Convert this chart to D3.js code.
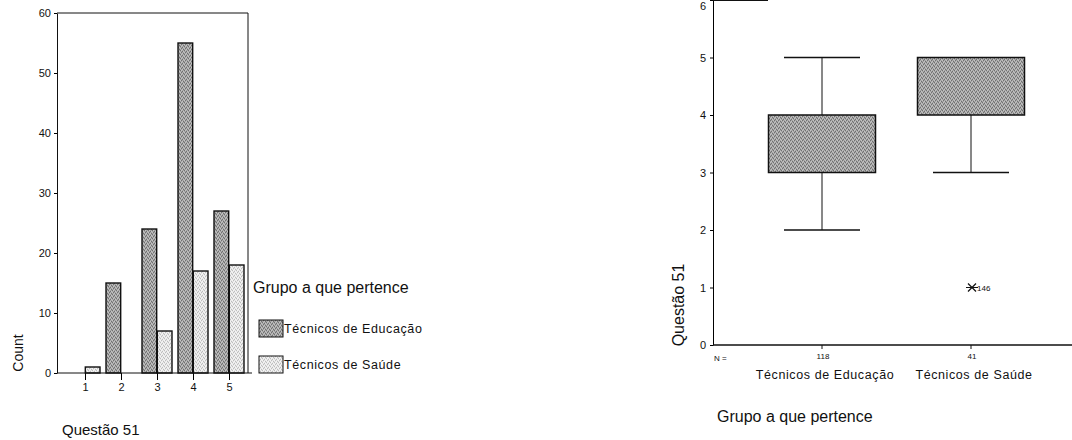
<!DOCTYPE html>
<html><head><meta charset="utf-8">
<script src="https://cdn.jsdelivr.net/npm/d3@7"></script>
<style>
body{margin:0;background:#fff;}
svg text{font-family:"Liberation Sans",Arial,sans-serif;fill:#111;}
</style></head>
<body><svg id="c" width="1072" height="440"></svg>
<script>
// ---------- data ----------
const categories = ["1","2","3","4","5"];
const seriesNames = ["Técnicos de Educação","Técnicos de Saúde"];
const eduCounts = [0,15,24,55,27];
const saudeCounts = [1,0,7,17,18];
const countTicks = [0,10,20,30,40,50,60];

const groups = ["Técnicos de Educação","Técnicos de Saúde"];
const groupN = [118,41];
const boxQ1 = [3,4];
const boxQ3 = [4,5];
const whiskLo = [2,3];
const whiskHi = [5,5];
const outlierGroup = ["Técnicos de Saúde"];
const outlierValue = [1];
const outlierId = ["146"];
const q51Ticks = [0,1,2,3,4,5,6];

const svg = d3.select("#c");
const defs = svg.append("defs");
function stipple(id, base, dot, dot2){
  const p = defs.append("pattern").attr("id",id).attr("patternUnits","userSpaceOnUse")
    .attr("width",4).attr("height",4);
  p.append("rect").attr("width",4).attr("height",4).attr("fill",base);
  [[0,0],[2,1],[1,3],[3,2]].forEach(d=>p.append("rect").attr("x",d[0]).attr("y",d[1]).attr("width",1).attr("height",1).attr("fill",dot));
  [[1,1],[3,0],[0,2],[2,3]].forEach(d=>p.append("rect").attr("x",d[0]).attr("y",d[1]).attr("width",1).attr("height",1).attr("fill",dot2));
}
stipple("pEdu","#a4a4a4","#707070","#c4c4c4");
stipple("pSau","#e6e6e6","#bdbdbd","#f6f6f6");
const fills = {"Técnicos de Educação":"url(#pEdu)","Técnicos de Saúde":"url(#pSau)"};

// ---------- left: grouped bar chart ----------
const L = svg.append("g");
const y = d3.scaleLinear().domain([0,60]).range([373,13]);
const x0 = d3.scaleBand().domain(categories).range([67,247]);
const x1 = d3.scaleBand().domain(seriesNames).range([-15,15]).paddingInner(0.04);
const rows = categories.map((c,i)=>({c, v:[eduCounts[i], saudeCounts[i]]}));

// frame
L.append("line").attr("x1",57).attr("x2",248).attr("y1",y(60)).attr("y2",y(60)).attr("stroke","#111");
L.append("line").attr("x1",248).attr("x2",248).attr("y1",y(60)).attr("y2",y(0)).attr("stroke","#111");

const cg = L.selectAll("g.cat").data(rows).join("g")
  .attr("transform",d=>`translate(${x0(d.c)+x0.bandwidth()/2},0)`);
cg.selectAll("rect").data(d=>seriesNames.map((s,k)=>({s,v:d.v[k]})).filter(e=>e.v>0)).join("rect")
  .attr("x",d=>x1(d.s)).attr("width",x1.bandwidth())
  .attr("y",d=>y(d.v)).attr("height",d=>y(0)-y(d.v))
  .attr("fill",d=>fills[d.s]).attr("stroke","#111").attr("stroke-width",1.4);

const ya = L.append("g").attr("transform","translate(57,0)")
  .call(d3.axisLeft(y).tickValues(countTicks).tickFormat(d3.format("d")).tickSize(3).tickPadding(3).tickSizeOuter(0));
ya.selectAll("text").style("font-size","11px");
ya.select(".domain").attr("stroke","#111");
const xa = L.append("g").attr("transform",`translate(0,${y(0)})`)
  .call(d3.axisBottom(d3.scalePoint().domain(categories).range([x0("1")+18,x0("5")+18])).tickSize(7).tickPadding(3));
xa.select(".domain").remove();
xa.selectAll("text").style("font-size","11px");
L.append("line").attr("x1",57).attr("x2",252).attr("y1",y(0)).attr("y2",y(0)).attr("stroke","#111");

L.append("text").attr("transform","translate(23,353) rotate(-90)").attr("text-anchor","middle")
  .style("font-size","14px").text("Count");
L.append("text").attr("x",62).attr("y",435).style("font-size","15px").text("Questão 51");

// legend
L.append("text").attr("x",253).attr("y",293).style("font-size","16px").text("Grupo a que pertence");
const lg = L.selectAll("g.leg").data(seriesNames).join("g")
  .attr("transform",(d,i)=>`translate(259,${320+i*36})`);
lg.append("rect").attr("width",24).attr("height",17).attr("fill",d=>fills[d]).attr("stroke","#111");
lg.append("text").attr("x",25).attr("y",13).style("font-size","12.5px").style("letter-spacing","0.6px").text(d=>d);

// ---------- right: box plot ----------
const R = svg.append("g");
const yb = d3.scaleLinear().domain([0,6]).range([345,0]);
const xb = d3.scalePoint().domain(groups).range([822,971]);
const boxW = 107, capW = 76;
const boxes = groups.map((g,i)=>({g,q1:boxQ1[i],q3:boxQ3[i],lo:whiskLo[i],hi:whiskHi[i],n:groupN[i]}));

const bg = R.selectAll("g.box").data(boxes).join("g").attr("transform",d=>`translate(${xb(d.g)},0)`);
bg.append("line").attr("y1",d=>yb(d.hi)).attr("y2",d=>yb(d.q3)).attr("stroke","#111");
bg.append("line").attr("y1",d=>yb(d.q1)).attr("y2",d=>yb(d.lo)).attr("stroke","#111");
bg.filter(d=>d.hi>d.q3).append("line").attr("x1",-capW/2).attr("x2",capW/2).attr("y1",d=>yb(d.hi)).attr("y2",d=>yb(d.hi)).attr("stroke","#111").attr("stroke-width",1.3);
bg.append("line").attr("x1",-capW/2).attr("x2",capW/2).attr("y1",d=>yb(d.lo)).attr("y2",d=>yb(d.lo)).attr("stroke","#111").attr("stroke-width",1.3);
bg.append("rect").attr("x",-boxW/2).attr("width",boxW).attr("y",d=>yb(d.q3)).attr("height",d=>yb(d.q1)-yb(d.q3))
  .attr("fill","url(#pEdu)").attr("stroke","#111").attr("stroke-width",1.5);

// outliers
const og = R.selectAll("g.out").data(outlierValue.map((v,i)=>({g:outlierGroup[i],v,id:outlierId[i]}))).join("g")
  .attr("transform",d=>`translate(${xb(d.g)+1},${yb(d.v)})`);
og.append("path").attr("d","M-6,0H6M-4,-4L4,4M-4,4L4,-4").attr("stroke","#111").attr("stroke-width",1.2);
og.append("text").attr("x",5).attr("y",3).style("font-size","8px").text(d=>d.id);

// axes
const yba = R.append("g").attr("transform","translate(713,0)")
  .call(d3.axisLeft(yb).tickValues(q51Ticks).tickFormat(d3.format("d")).tickSize(3).tickPadding(4).tickSizeOuter(0));
yba.selectAll("text").style("font-size","11px");
yba.selectAll(".tick").filter(d=>d===6).select("text").attr("dy","0.85em");
R.append("line").attr("x1",713).attr("x2",768).attr("y1",yb(6)+0.5).attr("y2",yb(6)+0.5).attr("stroke","#111");
R.append("line").attr("x1",713).attr("x2",1072).attr("y1",yb(0)).attr("y2",yb(0)).attr("stroke","#111").attr("stroke-width",1.3);
R.selectAll("line.xt").data(groups).join("line").attr("x1",d=>xb(d)).attr("x2",d=>xb(d))
  .attr("y1",yb(0)).attr("y2",yb(0)+4).attr("stroke","#111");
R.append("text").attr("x",714).attr("y",361).style("font-size","8px").text("N =");
R.selectAll("text.n").data(boxes).join("text").attr("x",d=>xb(d.g)+1).attr("y",359)
  .attr("text-anchor","middle").style("font-size","8px").text(d=>d.n);
R.selectAll("text.g").data(groups).join("text").attr("x",d=>xb(d)+3).attr("y",379)
  .attr("text-anchor","middle").style("font-size","12.5px").style("letter-spacing","0.6px").text(d=>d);
R.append("text").attr("transform","translate(684,305) rotate(-90)").attr("text-anchor","middle")
  .style("font-size","16px").text("Questão 51");
R.append("text").attr("x",717).attr("y",422).style("font-size","16px").text("Grupo a que pertence");
</script></body></html>
